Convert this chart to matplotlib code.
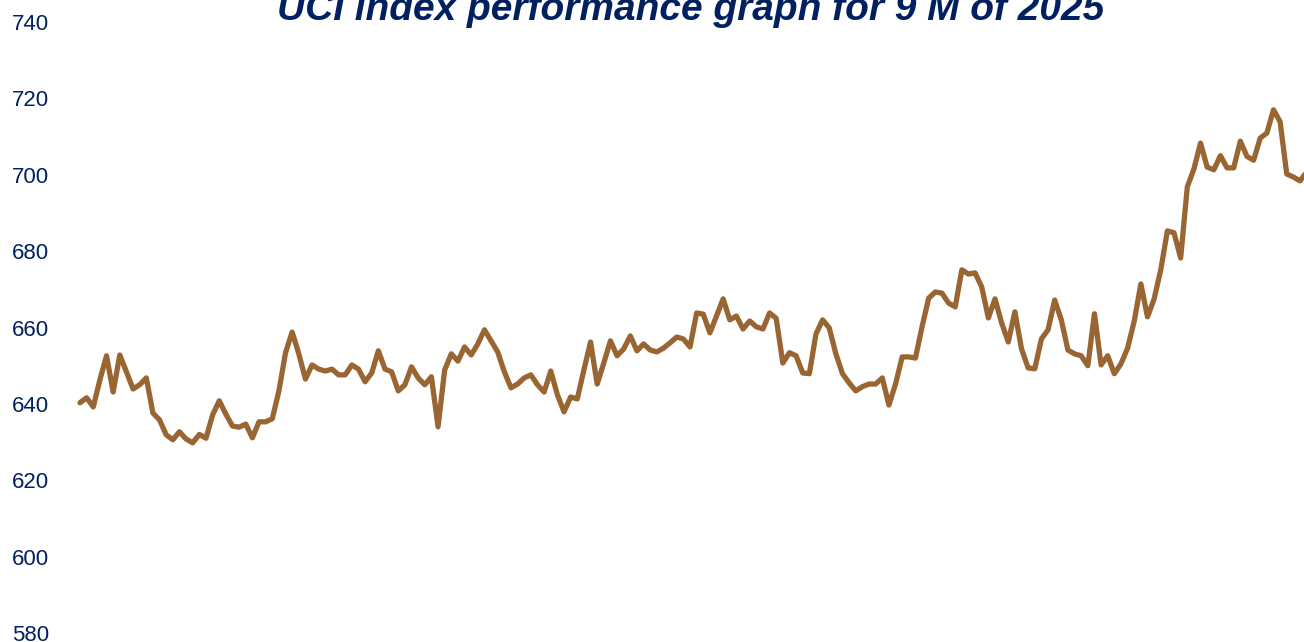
import matplotlib
matplotlib.use("Agg")
import matplotlib.pyplot as plt
import numpy as np

title = "UCI index performance graph for 9 M of 2025"
y_ticks = [580, 600, 620, 640, 660, 680, 700, 720, 740]
values = [
    640.3, 641.6, 639.2, 646.3, 652.6, 643.1, 652.8, 648.4, 643.9, 645.0,
    646.8, 637.6, 635.8, 631.9, 630.6, 632.7, 630.8, 629.8, 632.0, 631.0,
    637.1, 640.8, 637.3, 634.2, 633.9, 634.7, 631.1, 635.3, 635.3, 636.1,
    643.4, 653.4, 658.8, 653.1, 646.5, 650.2, 649.1, 648.6, 649.1, 647.6,
    647.6, 650.2, 649.1, 645.8, 648.1, 653.9, 649.1, 648.4, 643.4, 645.0,
    649.7, 646.8, 645.0, 647.1, 634.0, 648.9, 653.1, 651.2, 654.9, 652.8,
    655.7, 659.4, 656.5, 653.6, 648.4, 644.2, 645.2, 646.8, 647.6, 645.0,
    643.1, 648.6, 642.4, 637.9, 641.8, 641.3, 648.9, 656.2, 645.2, 650.7,
    656.5, 652.6, 654.4, 657.8, 653.9, 655.7, 654.1, 653.6, 654.6, 656.0,
    657.5, 657.0, 654.9, 663.8, 663.5, 658.6, 663.0, 667.5, 662.0, 663.0,
    659.6, 661.7, 660.2, 659.6, 663.8, 662.4, 650.7, 653.4, 652.6, 648.1,
    647.9, 658.3, 662.0, 659.9, 653.1, 647.9, 645.5, 643.4, 644.5, 645.2,
    645.2, 646.8, 639.7, 645.2, 652.3, 652.3, 652.0, 660.2, 667.7, 669.3,
    669.0, 666.4, 665.4, 675.1, 674.0, 674.3, 670.6, 662.5, 667.5, 661.2,
    656.2, 664.1, 654.4, 649.4, 649.2, 657.0, 659.4, 667.2, 662.0, 654.1,
    653.1, 652.6, 650.0, 663.6, 650.2, 652.6, 647.9, 650.5, 654.6, 661.7,
    671.4, 662.8, 667.5, 675.1, 685.3, 684.8, 678.2, 696.8, 701.5, 708.3,
    702.0, 701.3, 705.0, 701.8, 701.8, 708.8, 704.8, 703.8, 709.6, 710.9,
    717.0, 713.9, 700.2, 699.4, 698.4, 700.7,
]

navy = "#002060"
line_color = "#996633"

W, H = 1304, 642
fig = plt.figure(figsize=(W / 100, H / 100), dpi=100)

L_px = 62
top_px, bot_px = 22, 633
ax = fig.add_axes([L_px / W, (H - bot_px) / H, (W - L_px) / W, (bot_px - top_px) / H])

n = len(values)
x = np.arange(n)
s = (1300 - 80) / (n - 2)
x0 = -(80 - L_px) / s
x1 = (1304 - 80) / s
ax.plot(x, values, color=line_color, lw=3.8, solid_joinstyle="round", solid_capstyle="round")
ax.set_xlim(x0, x1)
ax.set_ylim(580, 740)
ax.set_yticks(y_ticks)
ax.set_yticklabels([str(t) for t in y_ticks], fontsize=16, color=navy, fontfamily="Liberation Sans")
ax.tick_params(axis="y", length=0, pad=9.5)
ax.set_xticks([])
for sp in ax.spines.values():
    sp.set_visible(False)

fig.text(691 / W, (H - 20) / H, title, ha="center", va="baseline", fontsize=28,
         fontweight="bold", fontstyle="italic", color=navy, fontfamily="Liberation Sans")

fig.savefig("out.png", dpi=100)
